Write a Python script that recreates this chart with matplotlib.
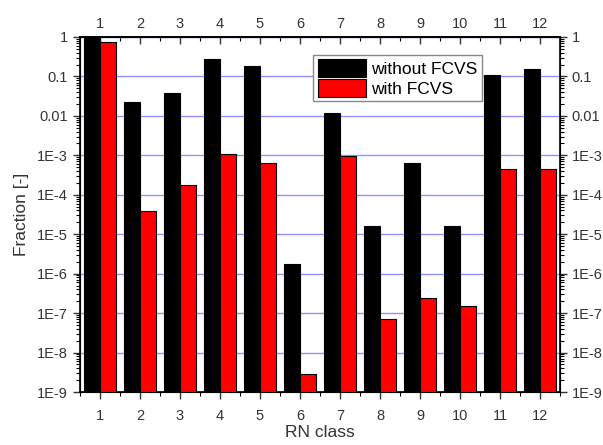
import numpy as np
import matplotlib
matplotlib.use("Agg")
import matplotlib.pyplot as plt
from matplotlib.ticker import FixedLocator, LogLocator, FuncFormatter, MultipleLocator

plt.rcParams['font.family'] = ['Liberation Sans', 'DejaVu Sans']

classes = np.arange(1, 13)
without_fcvs = [0.93, 0.0225, 0.037, 0.277, 0.187, 1.76e-6, 0.0116, 1.6e-5, 6.4e-4, 1.6e-5, 0.111, 0.158]
with_fcvs = [0.73, 3.9e-5, 1.77e-4, 1.06e-3, 6.4e-4, 2.8e-9, 9.8e-4, 7.2e-8, 2.37e-7, 1.5e-7, 4.4e-4, 4.4e-4]
decades = [10.0 ** e for e in range(-9, 1)]


def fmt(v, pos):
    e = int(round(np.log10(v)))
    if e == 0:
        return '1'
    if e == -1:
        return '0.1'
    if e == -2:
        return '0.01'
    return '1E%d' % e


def log_axis(a):
    a.set_yscale('log')
    a.set_ylim(1e-9, 1)
    a.yaxis.set_major_locator(FixedLocator(decades))
    a.yaxis.set_major_formatter(FuncFormatter(fmt))
    a.yaxis.set_minor_locator(LogLocator(base=10, subs=np.arange(2, 10), numticks=20))


fig = plt.figure(figsize=(6.03, 4.45), dpi=100)
ax = fig.add_axes([80 / 603, 1 - 392 / 445, 480 / 603, 355 / 445])

w = 0.4
ax.bar(classes - w / 2, without_fcvs, width=w, color='black', edgecolor='black',
       linewidth=0.8, label='without FCVS', zorder=3)
ax.bar(classes + w / 2, with_fcvs, width=w, color='#ff0000', edgecolor='black',
       linewidth=0.8, label='with FCVS', zorder=3)

log_axis(ax)
ax.set_xlim(0.5, 12.5)
ax.grid(axis='y', which='major', color='#9090ff', linewidth=1.0, zorder=0)

ax.xaxis.set_major_locator(MultipleLocator(1))
ax.xaxis.set_minor_locator(MultipleLocator(0.5))
ax.tick_params(axis='both', which='major', labelsize=10.5, colors='#333333', length=5, width=1, direction='out')
ax.tick_params(axis='both', which='minor', length=3, width=0.8, direction='out')
ax.tick_params(axis='x', which='major', pad=7)
for side in ax.spines.values():
    side.set_linewidth(1.2)

# top axis, ticks pointing inward
top = ax.secondary_xaxis('top')
top.xaxis.set_major_locator(MultipleLocator(1))
top.xaxis.set_minor_locator(MultipleLocator(0.5))
top.tick_params(axis='x', which='major', labelsize=10.5, colors='#333333', length=5, width=1, direction='in', pad=4)
top.tick_params(axis='x', which='minor', length=3, width=0.8, direction='in')
top.spines['top'].set_linewidth(1.2)

# right axis, same labels as left
ax2 = ax.twinx()
log_axis(ax2)
ax2.tick_params(axis='y', which='major', labelsize=10.5, colors='#333333', length=5, width=1, direction='out')
ax2.tick_params(axis='y', which='minor', length=3, width=0.8, direction='out')

ax.set_xlabel('RN class', fontsize=12.5, color='#333333', labelpad=2)
ax.set_ylabel('Fraction [-]', fontsize=12.5, color='#333333', labelpad=6)

ax.legend(loc='upper left', bbox_to_anchor=(0.468, 0.975), fontsize=12.5,
          handlelength=2.8, handleheight=1.2, fancybox=False, framealpha=1,
          edgecolor='#888888', borderpad=0.25, labelspacing=0.15, handletextpad=0.3)

fig.savefig('out.png', dpi=100)
